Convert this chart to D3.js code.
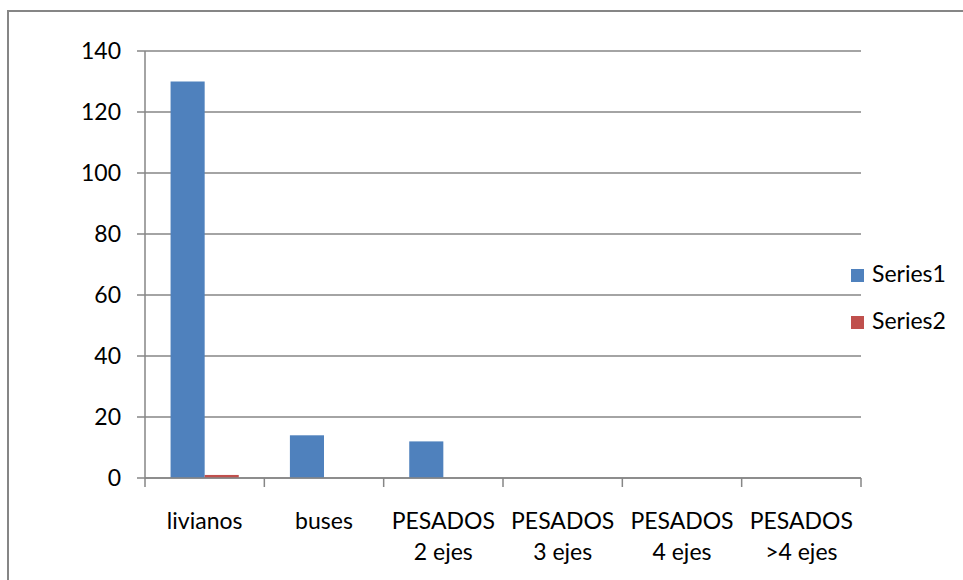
<!DOCTYPE html>
<html>
<head>
<meta charset="utf-8">
<script src="https://cdn.jsdelivr.net/npm/d3@7"></script>
<style>
  html, body { margin: 0; padding: 0; background: #fff; }
  svg { display: block; font-family: Lato, "Open Sans", sans-serif; }
</style>
</head>
<body>
<svg id="chart" width="963" height="580"></svg>
<script>
// Vehicle counts by class
const categories = [
  ["livianos"],
  ["buses"],
  ["PESADOS", "2 ejes"],
  ["PESADOS", "3 ejes"],
  ["PESADOS", "4 ejes"],
  ["PESADOS", ">4 ejes"]
];
const seriesNames = ["Series1", "Series2"];
const series1 = [130, 14, 12, 0, 0, 0];
const series2 = [1, 0, 0, 0, 0, 0];
const yTicks = [0, 20, 40, 60, 80, 100, 120, 140];

const colors = ["#4F81BD", "#C0504D"];
const gridColor = "#868686";

const svg = d3.select("#chart");

// outer chart frame
svg.append("rect")
  .attr("x", 8).attr("y", 11)
  .attr("width", 970).attr("height", 590)
  .attr("fill", "#fff")
  .attr("stroke", gridColor).attr("stroke-width", 2);

const plot = { left: 145, right: 861, top: 51, bottom: 478 };

const keys = categories.map((c, i) => i);
const x = d3.scaleBand().domain(keys).range([plot.left, plot.right]).paddingInner(0).paddingOuter(0);
// gap width 150% of a bar: category = 3.5 bars
const xInner = d3.scaleBand().domain([0, 1])
  .range([0, x.bandwidth()])
  .paddingInner(0).paddingOuter(0.75 / 2 * 1);
const y = d3.scaleLinear().domain([0, 140]).range([plot.bottom, plot.top]);

// horizontal gridlines
svg.append("g")
  .selectAll("line")
  .data(yTicks)
  .join("line")
  .attr("x1", plot.left - 8)
  .attr("x2", plot.right)
  .attr("y1", d => y(d))
  .attr("y2", d => y(d))
  .attr("stroke", gridColor)
  .attr("stroke-width", 1.5);

// y axis line
svg.append("line")
  .attr("x1", plot.left).attr("x2", plot.left)
  .attr("y1", plot.top).attr("y2", plot.bottom)
  .attr("stroke", gridColor).attr("stroke-width", 1.5);

// y tick labels
svg.append("g")
  .selectAll("text")
  .data(yTicks)
  .join("text")
  .attr("x", 121)
  .attr("y", d => y(d) + 8)
  .attr("text-anchor", "end")
  .attr("font-size", 23)
  .attr("fill", "#000")
  .text(d => d);

// bars
const bandW = x.bandwidth();
const barW = bandW / 3.5;
const data = [series1, series2];
data.forEach((vals, s) => {
  svg.append("g")
    .selectAll("rect")
    .data(vals)
    .join("rect")
    .attr("x", (d, i) => x(i) + bandW * 0.75 / 3.5 + s * barW)
    .attr("width", barW)
    .attr("y", d => y(d))
    .attr("height", d => y(0) - y(d))
    .attr("fill", colors[s]);
});

// x axis line and tick marks
svg.append("line")
  .attr("x1", plot.left).attr("x2", plot.right)
  .attr("y1", plot.bottom).attr("y2", plot.bottom)
  .attr("stroke", gridColor).attr("stroke-width", 1.5);
const boundaries = keys.map(i => x(i)).concat([plot.right]);
svg.append("g")
  .selectAll("line")
  .data(boundaries)
  .join("line")
  .attr("x1", d => d).attr("x2", d => d)
  .attr("y1", plot.bottom).attr("y2", plot.bottom + 9)
  .attr("stroke", gridColor).attr("stroke-width", 1.5);

// category labels
const labels = svg.append("g")
  .selectAll("text")
  .data(categories)
  .join("text")
  .attr("x", (d, i) => x(i) + bandW / 2)
  .attr("y", 529)
  .attr("text-anchor", "middle")
  .attr("font-size", 23)
  .attr("fill", "#000");
labels.selectAll("tspan")
  .data(d => d)
  .join("tspan")
  .attr("x", function () { return d3.select(this.parentNode).attr("x"); })
  .attr("dy", (d, i) => i === 0 ? 0 : 31)
  .text(d => d);

// legend
const legend = svg.append("g")
  .selectAll("g")
  .data(seriesNames)
  .join("g")
  .attr("transform", (d, i) => `translate(851, ${269 + i * 47})`);
legend.append("rect")
  .attr("width", 13).attr("height", 13)
  .attr("fill", (d, i) => colors[i]);
legend.append("text")
  .attr("x", 21).attr("y", 13)
  .attr("font-size", 23)
  .attr("fill", "#000")
  .text(d => d);
</script>
</body>
</html>
